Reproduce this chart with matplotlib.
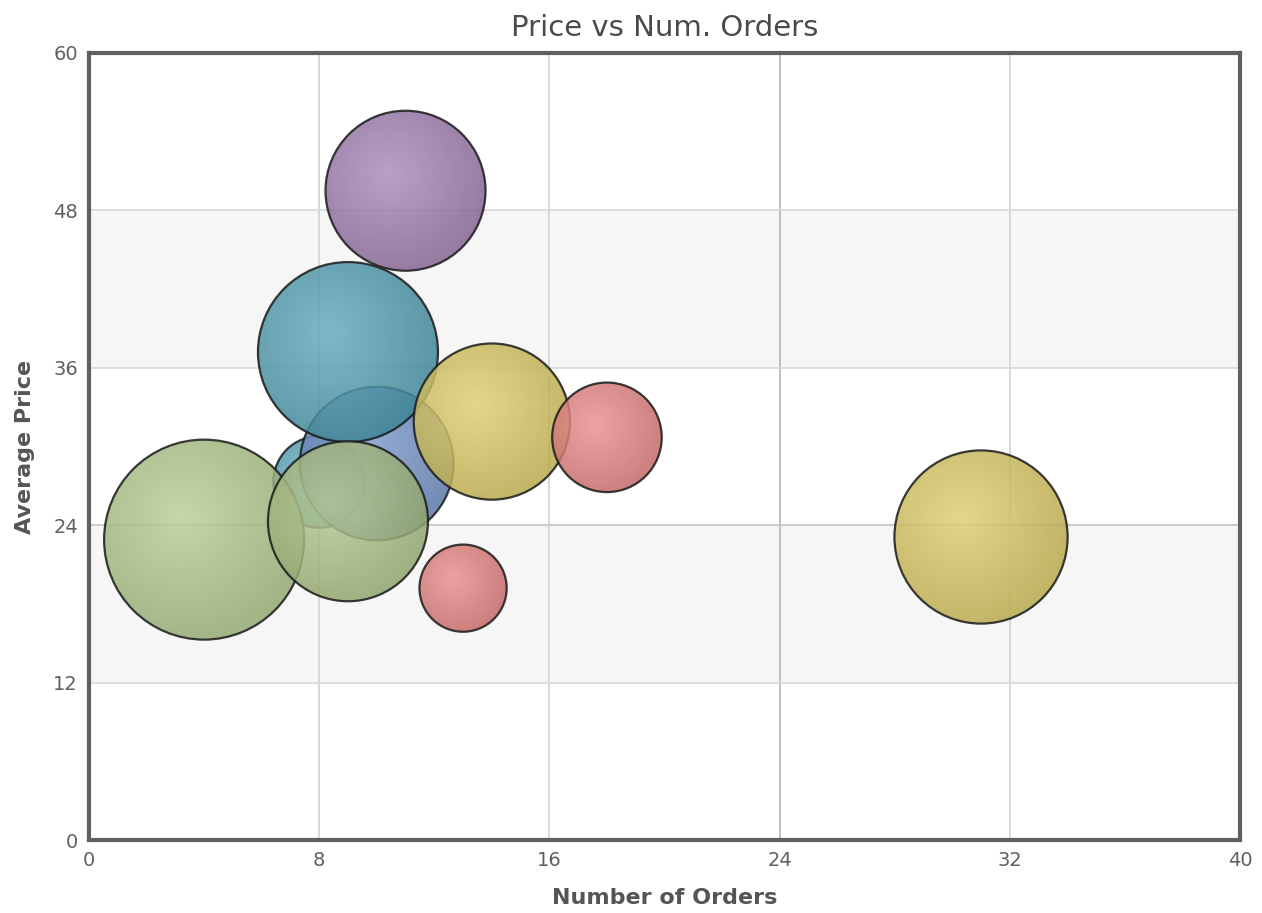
import matplotlib
matplotlib.use('Agg')
import matplotlib.pyplot as plt
import numpy as np
from matplotlib.patches import Ellipse
from matplotlib.colors import to_rgb

# bubble data
orders = [8, 10, 9, 11, 14, 18, 4, 9, 13, 31]
avg_price = [27.3, 28.7, 37.2, 49.5, 31.9, 30.7, 22.9, 24.3, 19.2, 23.1]
volume = [21, 59, 81, 64, 61, 30, 100, 64, 19, 75]
colors = ['#4fa0b6', '#6a8cc4', '#4a9bb0', '#9a76ac', '#d8c65a',
          '#e47c7a', '#adc585', '#a9c080', '#e47c7a', '#d8c65a']

x_ticks = [0, 8, 16, 24, 32, 40]
y_ticks = [0, 12, 24, 36, 48, 60]

MAX_R_PX = 100
TEXT = '#555555'

fig = plt.figure(figsize=(12.62, 9.13), dpi=100)
ax = fig.add_axes([89 / 1262, 73 / 913, 1151 / 1262, 787 / 913])
ax.set_xlim(0, 40)
ax.set_ylim(0, 60)
ax.set_autoscale_on(False)

# alternating bands
for i, lo in enumerate(y_ticks[:-1]):
    if i % 2 == 1:
        ax.axhspan(lo, lo + 12, color='#f6f6f6', zorder=0, lw=0)

for xv in x_ticks[1:-1]:
    ax.axvline(xv, color='#b4b4b4' if xv == 24 else '#d2d2d2', lw=1.2, zorder=1)
for yv in y_ticks[1:-1]:
    ax.axhline(yv, color='#c4c4c4' if yv == 24 else '#d8d8d8', lw=1.2, zorder=1)

# pixels per data unit
p0 = ax.transData.transform((0, 0))
p1 = ax.transData.transform((1, 1))
px_x = p1[0] - p0[0]
px_y = p1[1] - p0[1]

n = 200
g = np.linspace(-1, 1, n)
gx, gy = np.meshgrid(g, g)
dist = np.clip(np.hypot(gx + 0.22, gy - 0.22) / 1.25, 0, 1)[..., None]

for k, (xv, yv, v, c) in enumerate(zip(orders, avg_price, volume, colors)):
    r = MAX_R_PX * np.sqrt(v / max(volume))
    w = r / px_x
    h = r / px_y
    base = np.array(to_rgb(c))
    light = base + (1 - base) * 0.18
    dark = base * 0.86
    rgb = light * (1 - dist) + dark * dist
    img = np.dstack([rgb, np.full((n, n), 0.85)])
    z = 3 + k * 0.1
    im = ax.imshow(img, extent=[xv - w, xv + w, yv - h, yv + h], origin='lower',
                   aspect='auto', interpolation='bilinear', zorder=z)
    clip = Ellipse((xv, yv), 2 * w, 2 * h, transform=ax.transData)
    im.set_clip_path(clip)
    ax.add_patch(Ellipse((xv, yv), 2 * w, 2 * h, fill=False, ec='#1a1a1a',
                         lw=1.6, alpha=0.85, zorder=z + 0.05))

ax.set_xticks(x_ticks)
ax.set_yticks(y_ticks)
ax.tick_params(length=0, pad=8, labelsize=14, labelcolor='#606060')
for s in ax.spines.values():
    s.set_color('#606060')
    s.set_linewidth(3)
    s.set_zorder(10)

ax.set_title('Price vs Num. Orders', fontsize=21, color='#4a4a4a', pad=12)
ax.set_xlabel('Number of Orders', fontsize=16, color=TEXT, fontweight='bold', labelpad=13)
ax.set_ylabel('Average Price', fontsize=16, color=TEXT, fontweight='bold', labelpad=13)

fig.savefig('out.png', dpi=100)
